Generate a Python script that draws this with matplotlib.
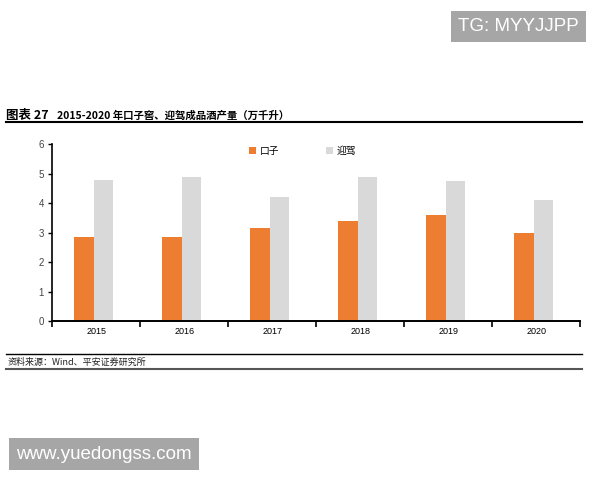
import numpy as np
import matplotlib
matplotlib.use("Agg")
import matplotlib.pyplot as plt
from matplotlib.lines import Line2D

plt.rcParams['font.family'] = ['Noto Sans CJK SC', 'DejaVu Sans']

years = ["2015", "2016", "2017", "2018", "2019", "2020"]
kouzi = [2.85, 2.85, 3.15, 3.38, 3.58, 2.98]
yingjia = [4.77, 4.87, 4.22, 4.87, 4.74, 4.09]
series_names = ["口子", "迎驾"]

ORANGE = "#ed7d31"
GREY = "#d9d9d9"
LAT = ["Liberation Sans", "DejaVu Sans"]

fig = plt.figure(figsize=(6, 4.8), dpi=100)
ax = fig.add_axes([0.087, 0.331, 0.88, 0.369])

x = np.arange(len(years))
w = 0.22
ax.bar(x - w / 2 - 0.03, kouzi, w, color=ORANGE, label=series_names[0])
ax.bar(x + w / 2 - 0.03, yingjia, w, color=GREY, label=series_names[1])

ax.set_xlim(-0.5, len(years) - 0.5)
ax.set_ylim(0, 6)
ax.set_yticks(range(7))
ax.set_xticks(x)
ax.set_xticklabels(years, family=LAT)
ax.set_yticklabels([str(v) for v in range(7)], family=LAT)
ax.set_xticks(np.arange(-0.5, len(years)), minor=True)
ax.tick_params(axis="x", which="major", length=0, labelsize=6.5, pad=4)
ax.tick_params(axis="x", which="minor", length=4, width=1.2, direction="out")
ax.tick_params(axis="y", length=3, width=1, labelsize=7, labelcolor="#444444", pad=3)
for s in ["top", "right"]:
    ax.spines[s].set_visible(False)
ax.spines["left"].set_linewidth(1.2)
ax.spines["bottom"].set_linewidth(1.4)

ax.legend(loc="upper center", bbox_to_anchor=(0.475, 1.04), ncol=2, frameon=False,
          fontsize=7, handlelength=0.7, handleheight=0.7, columnspacing=4.8,
          handletextpad=0.4)

# title bar
fig.text(0.01, 0.76, "图表 27", fontsize=9, fontweight="bold", va="center")
fig.text(0.095, 0.76, "2015-2020 年口子窖、迎驾成品酒产量（万千升）", fontsize=7.5,
         fontweight="bold", va="center")
fig.add_artist(Line2D([0.01, 0.97], [0.745, 0.745], color="black", lw=1.5))

# source
fig.add_artist(Line2D([0.01, 0.97], [0.263, 0.263], color="black", lw=1.0))
fig.text(0.012, 0.246, "资料来源：Wind、平安证券研究所", fontsize=6.5, style="italic",
         va="center", color="#222222")
fig.add_artist(Line2D([0.01, 0.97], [0.232, 0.232], color="#555555", lw=1.5))

# watermarks
fig.text(0.763, 0.945, "TG: MYYJJPP", fontsize=13.5, color="white", va="center",
         family=LAT, bbox=dict(boxstyle="square,pad=0.38", fc="#a6a6a6", ec="none"))
fig.text(0.027, 0.054, "www.yuedongss.com", fontsize=13.5, color="white", va="center",
         family=LAT, bbox=dict(boxstyle="square,pad=0.38", fc="#a6a6a6", ec="none"))

fig.savefig("out.png", dpi=100)
